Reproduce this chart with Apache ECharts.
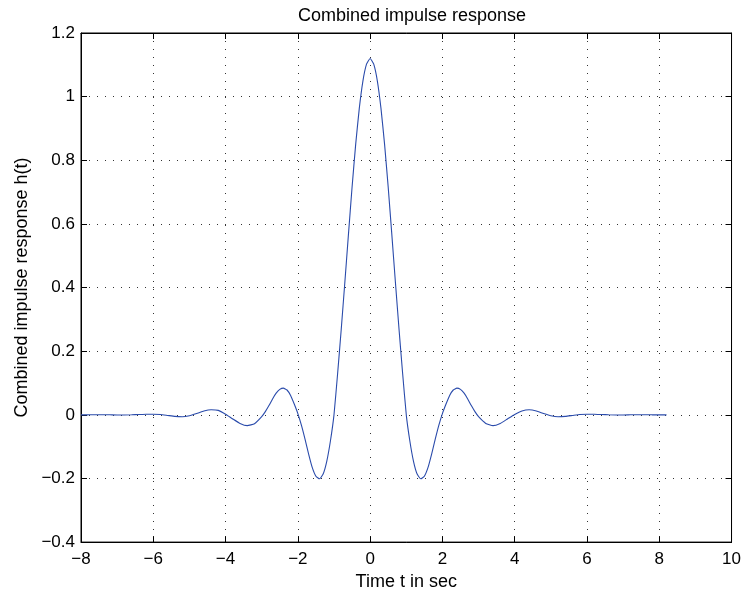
<!DOCTYPE html>
<html>
<head>
<meta charset="utf-8">
<script src="https://cdn.jsdelivr.net/npm/echarts@6/dist/echarts.min.js"></script>
<style>
  html, body { margin: 0; padding: 0; background: #fff; }
  #chart { width: 744px; height: 596px; }
</style>
</head>
<body>
<div id="chart"></div>
<script>
// Time samples (seconds)
const timeSec = [
  -8.0, -7.8, -7.6, -7.4, -7.2, -7.0, -6.8, -6.6, -6.4, -6.2,
  -6.0, -5.8, -5.6, -5.4, -5.2, -5.0, -4.8, -4.6, -4.4, -4.2,
  -4.0, -3.8, -3.6, -3.4, -3.2,
  -3.0, -2.9, -2.8, -2.7, -2.6, -2.5, -2.4, -2.3, -2.2, -2.1,
  -2.0, -1.9, -1.8, -1.7, -1.6, -1.5, -1.4, -1.3, -1.2, -1.1,
  -1.0, -0.9, -0.8, -0.7, -0.6, -0.5, -0.4, -0.3, -0.2, -0.1,
  0.0, 0.1, 0.2, 0.3, 0.4, 0.5, 0.6, 0.7, 0.8, 0.9,
  1.0, 1.1, 1.2, 1.3, 1.4, 1.5, 1.6, 1.7, 1.8, 1.9,
  2.0, 2.1, 2.2, 2.3, 2.4, 2.5, 2.6, 2.7, 2.8, 2.9,
  3.0, 3.2, 3.4, 3.6, 3.8, 4.0, 4.2, 4.4, 4.6, 4.8,
  5.0, 5.2, 5.4, 5.6, 5.8, 6.0, 6.2, 6.4, 6.6, 6.8,
  7.0, 7.2, 7.4, 7.6, 7.8, 8.0, 8.2
];

// Combined impulse response h(t)
const response = [
  0.0, 0.0, 0.0003, 0.0003, 0.0, -0.0005, -0.0005, 0.0, 0.001, 0.002,
  0.002, 0.001, -0.002, -0.005, -0.006, -0.003, 0.004, 0.012, 0.016, 0.014,
  0.002, -0.013, -0.027, -0.034, -0.028,
  -0.006, 0.010, 0.029, 0.050, 0.068, 0.080, 0.084, 0.078, 0.061, 0.034,
  0.004, -0.033, -0.077, -0.124, -0.166, -0.193, -0.201, -0.186, -0.146, -0.083,
  0.0, 0.129, 0.268, 0.416, 0.567, 0.715, 0.850, 0.963, 1.049, 1.102,
  1.120, 1.102, 1.049, 0.963, 0.850, 0.715, 0.567, 0.416, 0.268, 0.129,
  0.0, -0.083, -0.146, -0.186, -0.201, -0.193, -0.166, -0.124, -0.077, -0.033,
  0.004, 0.034, 0.061, 0.078, 0.084, 0.080, 0.068, 0.050, 0.029, 0.010,
  -0.006, -0.027, -0.034, -0.027, -0.013, 0.001, 0.012, 0.016, 0.012, 0.004,
  -0.003, -0.006, -0.005, -0.002, 0.001, 0.002, 0.002, 0.001, 0.0, -0.0005,
  -0.0005, 0.0, 0.0003, 0.0003, 0.0, 0.0, 0.0
];

const xRange = { min: -8, max: 10, step: 2 };
const yRange = { min: -0.4, max: 1.2, step: 0.2 };

const titleText = 'Combined impulse response';
const xLabel = 'Time t in sec';
const yLabel = 'Combined impulse response h(t)';

const FONT = '"Liberation Sans", Arial, Helvetica, sans-serif';

function fmt(v) {
  const s = String(Number(v.toFixed(1)));
  return s.replace('-', '\u2212');
}

const gridLine = { show: true, lineStyle: { color: '#333', width: 1, type: [1, 7] } };
const tickIn = { show: true, inside: true, length: 6, lineStyle: { color: '#000', width: 1 } };
const axisLineBlack = { show: true, onZero: false, lineStyle: { color: '#000', width: 1 } };

const chart = echarts.init(document.getElementById('chart'), null, { renderer: 'canvas' });

chart.setOption({
  animation: false,
  backgroundColor: '#fff',
  title: {
    text: titleText,
    left: 407, top: 2, textAlign: 'center',
    textStyle: { fontFamily: FONT, fontSize: 18, fontWeight: 'normal', color: '#000' }
  },
  grid: {
    left: 81, right: 10, top: 33, bottom: 52,
    show: true, borderColor: '#000', borderWidth: 1, backgroundColor: '#fff'
  },
  xAxis: [
    {
      type: 'value', position: 'bottom',
      min: xRange.min, max: xRange.max, interval: xRange.step,
      name: xLabel, nameLocation: 'middle', nameGap: 29,
      nameTextStyle: { fontFamily: FONT, fontSize: 18, color: '#000' },
      axisLine: axisLineBlack, axisTick: tickIn,
      axisLabel: { formatter: fmt, margin: 9, fontFamily: FONT, fontSize: 17, color: '#000' },
      splitLine: gridLine
    },
    {
      type: 'value', position: 'top',
      min: xRange.min, max: xRange.max, interval: xRange.step,
      axisLine: axisLineBlack, axisTick: tickIn,
      axisLabel: { show: false }, splitLine: { show: false }
    }
  ],
  yAxis: [
    {
      type: 'value', position: 'left',
      min: yRange.min, max: yRange.max, interval: yRange.step,
      name: yLabel, nameLocation: 'middle', nameGap: 48,
      nameTextStyle: { fontFamily: FONT, fontSize: 18, color: '#000' },
      axisLine: axisLineBlack, axisTick: tickIn,
      axisLabel: { formatter: fmt, margin: 6, fontFamily: FONT, fontSize: 17, color: '#000' },
      splitLine: gridLine
    },
    {
      type: 'value', position: 'right',
      min: yRange.min, max: yRange.max, interval: yRange.step,
      axisLine: axisLineBlack, axisTick: tickIn,
      axisLabel: { show: false }, splitLine: { show: false }
    }
  ],
  series: [
    {
      type: 'line',
      xAxisIndex: 0, yAxisIndex: 0,
      data: timeSec.map((t, i) => [t, response[i]]),
      showSymbol: false,
      smooth: 0.15,
      lineStyle: { color: '#2a4bab', width: 1.1 },
      silent: true
    }
  ]
});
</script>
</body>
</html>
